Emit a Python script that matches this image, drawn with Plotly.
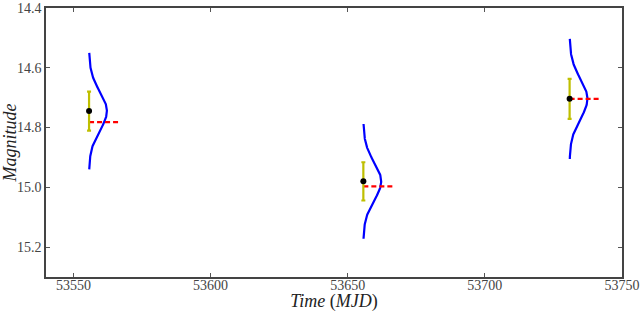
import numpy as np
import plotly.graph_objects as go

# Observations
time = [53555.7, 53655.7, 53730.9]
mag = [14.745, 14.980, 14.704]
mag_err = [0.065, 0.064, 0.067]
# Model magnitudes (red dashed)
model_mag = [14.782, 14.997, 14.704]

xticks = [53550, 53600, 53650, 53700, 53750]
yticks = [14.4, 14.6, 14.8, 15.0, 15.2]

gauss_width_days = 6.5
model_len_days = 11.3

fig = go.Figure()

for t, m, e, mm in zip(time, mag, mag_err, model_mag):
    yy = np.linspace(m - 3 * e, m + 3 * e, 200)
    xx = t + gauss_width_days * np.exp(-0.5 * ((yy - m) / e) ** 2)
    fig.add_trace(go.Scatter(x=xx, y=yy, mode="lines",
                             line=dict(color="#0000ff", width=2.2),
                             showlegend=False, hoverinfo="skip"))
    fig.add_trace(go.Scatter(x=[t, t + model_len_days], y=[mm, mm], mode="lines",
                             line=dict(color="#ff0000", width=2.2, dash="5px,3px"),
                             showlegend=False, hoverinfo="skip"))

fig.add_trace(go.Scatter(
    x=time, y=mag, mode="markers",
    marker=dict(color="black", size=6),
    error_y=dict(type="data", array=mag_err, color="#bfbf00", thickness=2.2, width=2),
    showlegend=False))

font = "Liberation Serif, DejaVu Serif, serif"
fig.update_layout(
    width=640, height=312,
    margin=dict(l=46, r=18, t=8, b=35),
    paper_bgcolor="white", plot_bgcolor="white",
    font=dict(family=font, size=14, color="#444444"),
    xaxis=dict(range=[53540, 53750], tickvals=xticks, ticktext=[str(v) for v in xticks],
               ticks="inside", ticklen=4, tickcolor="#555", showgrid=False, zeroline=False,
               showline=True, linecolor="#444", linewidth=1.5, mirror="ticks",
               automargin=False, tickfont=dict(size=14), ticklabelstandoff=-6,
               title=dict(text="<i>Time</i> (<i>MJD</i>)", font=dict(family=font, size=18, color="#222"), standoff=0)),
    yaxis=dict(range=[15.3, 14.4], tickvals=yticks, ticktext=[f"{v:.1f}" for v in yticks],
               ticks="inside", ticklen=4, tickcolor="#555", showgrid=False, zeroline=False,
               showline=True, linecolor="#444", linewidth=1.5, mirror="ticks",
               automargin=False, tickfont=dict(size=14),
               title=dict(text="<i>Magnitude</i>", font=dict(family=font, size=18, color="#222"), standoff=2)),
)

fig.write_html("out.html", config={"displayModeBar": False},
               post_script="document.body.style.margin='0';document.body.style.padding='0';")
